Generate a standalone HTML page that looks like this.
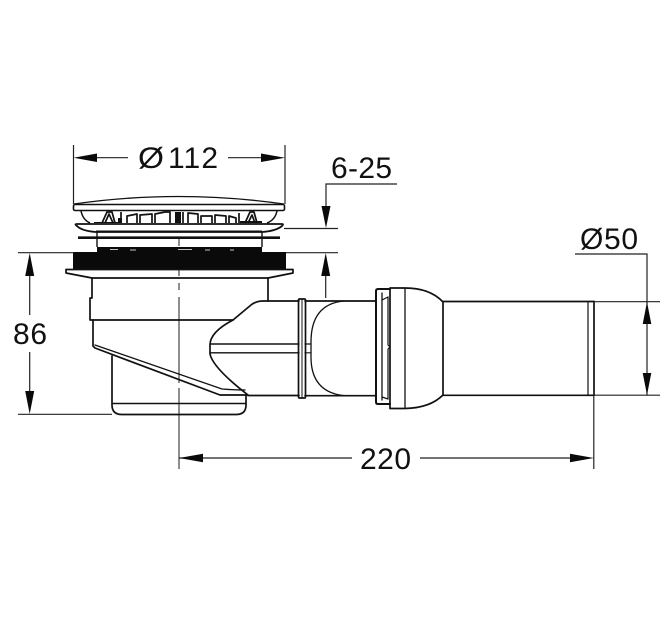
<!DOCTYPE html>
<html>
<head>
<meta charset="utf-8">
<style>
html,body{margin:0;padding:0;background:#fff;}
svg{display:block;}
text{font-family:"Liberation Sans",sans-serif;font-size:30px;fill:#111;}
</style>
</head>
<body>
<svg width="671" height="630" viewBox="0 0 671 630" xmlns="http://www.w3.org/2000/svg">
<rect width="671" height="630" fill="#fff"/>

<!-- centre line -->
<g stroke="#444" stroke-width="1.2" fill="none">
  <path d="M179 238V246M179 270V276M179 283V290M179 297V383M179 388V469"/>
</g>

<!-- cap -->
<g fill="none" stroke="#111" stroke-width="1.5" stroke-linejoin="round">
  <path d="M74 204Q178 189 284 204" stroke-width="1.3"/>
  <rect x="73.500" y="204.500" width="211" height="6" rx="1.500" stroke-width="1.600"/>
  <path d="M81 211Q83 220 90 223M277 211Q275 220 267 223"/>
  <!-- strainer slots -->
  <g stroke-width="1.700">
    <path d="M102 223L107 212L112 212L115 223M105 223L109 214L113 223"/>
    <path d="M127 223V216L137 214L137 223M140 223V215L152 214V223M155 223V214L165 212L170 212V223"/>
    <path d="M188 223V213L198 214V223M201 223V216L212 216V223M215 223V215L226 216V223M229 223V216L236 218V223"/>
    <path d="M245 223L250 212L254 212L257 223M248 223L252 215L255 223"/>
    <path d="M121 223V212M183 223V212M239 223V213"/>
  </g>
  <path d="M175 212H181V223H175Z" fill="#111" stroke="none"/>
  <path d="M118 223V218H122V223ZM94 223H118V222H94ZM240 221H262V223H240Z" fill="#111" stroke="none"/>
  <!-- upper flange -->
  <path d="M77 224H282Q284 224 282 226Q276 231 262 232H96Q82 231 77 226Q74 224 77 224Z" stroke-width="1.800"/>
  <path d="M96 231.500H262" stroke-width="2"/>
  <path d="M97 232V247M262 232V247" stroke-width="1.400"/>
  <path d="M78 237.700H280" stroke-width="2.600"/>
</g>

<!-- black seal -->
<path d="M97 247H262V252H286V269H73V252H97Z" fill="#0a0a0a"/>
<path d="M110 249.500h8M130 250h6M178 249.500h14M205 250h5M230 250h4" stroke="#fff" stroke-width="0.800"/>

<!-- lower flange and body -->
<g fill="none" stroke="#111" stroke-width="1.700" stroke-linejoin="round" stroke-linecap="round">
  <path d="M66 269.500H293V273L268 278H92L66 273Z"/>
  <path d="M92 278V298H90V320H233"/>
  <path d="M268 278V301"/>
  <path d="M93 320V346L95 348L220 395H247"/>
  <path d="M95 345L222 389Q235 390 245 390" stroke-width="1.300"/>
  <path d="M112 356V405Q112 414.500 122 414.500H236Q246 414.500 246 405V395"/>
  <path d="M113 403.500H246" stroke-width="1.400"/>
  <!-- elbow -->
  <path d="M233 320Q210 332 210 345V354Q213 368 248 395"/>
  <path d="M233 320L251 305Q256 301 263 301H299"/>
  <path d="M210 344H299M210 352.800H299" stroke-width="1.400"/>
  <path d="M248 395.500H299"/>
  <!-- first collar -->
  <rect x="298.500" y="299" width="7" height="99" rx="1"/>
  <path d="M302 299.500V397.500" stroke-width="1"/>
  <!-- pipe section -->
  <path d="M305 301H376M305 395.700H376"/>
  <path d="M344 301Q311 304 311 342V357Q311 392 344 395.700" stroke-width="1.300"/>
  <path d="M305 344H311M305 352.800H311" stroke-width="1.200"/>
  <!-- socket -->
  <path d="M376 291Q376 289 378 289H390M376 291V402Q376 404 378 404H390" stroke-width="2"/>
  <path d="M382 293V400" stroke-width="1.300"/>
  <path d="M382 300L388 297M382 397L388 399" stroke-width="1.200"/>
  <path d="M388 297V345L390 347L388 349V399" stroke-width="1.200"/>
  <path d="M390 288H405Q430 288 443 302V395Q430 408 405 408.500H390V288Z"/>
  <path d="M405 288V408" stroke-width="1.300"/>
  <!-- long pipe -->
  <path d="M443 301.500H594M443 395.300H594"/>
  <path d="M588 301.500V395.300" stroke-width="1.200"/>
  <path d="M594 301.500V395.300"/>
</g>

<!-- dimension lines -->
<g fill="none" stroke="#222" stroke-width="1.200">
  <path d="M73.500 145V204M285 145V204"/>
  <path d="M95 157.700H128M228 157.700H262"/>
  <path d="M397 184H326V208"/>
  <path d="M284 228.500H338M286 252.700H338"/>
  <path d="M325.700 275V298"/>
  <path d="M18 252.700H74M18 414.300H112"/>
  <path d="M29.700 275V315M29.700 352V392"/>
  <path d="M179 458H352M420 458H572"/>
  <path d="M593.800 396V469"/>
  <path d="M575 254H647V395"/>
  <path d="M594 301.700H660M594 395.200H660"/>
</g>

<!-- arrowheads -->
<g fill="#0a0a0a">
  <path d="M73.500 157.700L97 153.500V162Z"/>
  <path d="M285 157.700L261 153.500V162Z"/>
  <path d="M326 228L321.500 206H330.500Z"/>
  <path d="M325.700 253L321.200 276H330.200Z"/>
  <path d="M29.700 253L25.200 276H34.200Z"/>
  <path d="M29.700 414L25.200 391H34.200Z"/>
  <path d="M179 458L203 453.800V462.200Z"/>
  <path d="M593.800 458L570 453.800V462.200Z"/>
  <path d="M647 302L642.700 324H651.300Z"/>
  <path d="M647 395L642.700 373H651.300Z"/>
</g>

<!-- labels -->
<text x="138" y="168" textLength="26" lengthAdjust="spacingAndGlyphs">Ø</text>
<text x="168" y="168" textLength="50">112</text>
<text x="331" y="178" textLength="61">6-25</text>
<text x="13" y="344" textLength="34">86</text>
<text x="360" y="469" textLength="51">220</text>
<text x="580" y="249" textLength="58">Ø50</text>
</svg>
</body>
</html>
